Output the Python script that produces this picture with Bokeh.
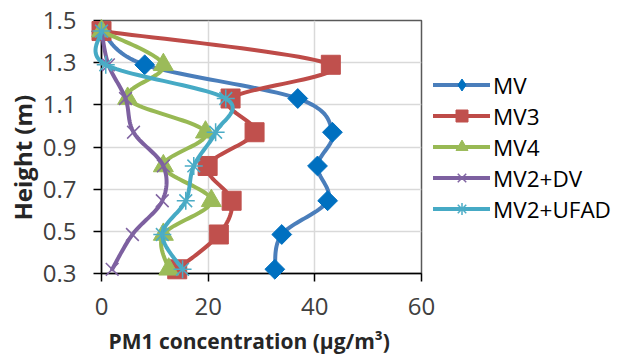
import numpy as np
from bokeh.plotting import figure
from bokeh.models import FixedTicker, Legend, LegendItem, CustomJSTickFormatter, Title
from bokeh.embed import file_html
from bokeh.resources import INLINE

heights = [0.32, 0.485, 0.645, 0.81, 0.97, 1.13, 1.29, 1.45]
mv = [32.5, 33.8, 42.4, 40.5, 43.3, 36.8, 8.1, 0.0]
mv3 = [14.2, 22.0, 24.4, 19.9, 28.7, 24.2, 43.0, 0.0]
mv4 = [12.6, 11.6, 20.6, 11.6, 19.5, 4.9, 11.6, 0.0]
mv2_dv = [2.0, 5.8, 11.4, 11.6, 6.0, 4.5, 1.3, 0.0]
mv2_ufad = [15.2, 11.4, 15.8, 17.3, 21.4, 23.3, 0.8, 0.0]

series_names = ["MV", "MV3", "MV4", "MV2+DV", "MV2+UFAD"]
y_ticks = [0.3, 0.5, 0.7, 0.9, 1.1, 1.3, 1.5]
x_ticks = [0, 20, 40, 60]
x_title = "PM1 concentration (µg/m³)"
y_title = "Height (m)"


def smooth(xs, ys, n=24):
    pts = np.column_stack([xs, ys]).astype(float)
    m = len(pts)
    out = [pts[0]]
    for i in range(m - 1):
        p0 = pts[max(i - 1, 0)]
        p1 = pts[i]
        p2 = pts[i + 1]
        p3 = pts[min(i + 2, m - 1)]
        c1 = p1 + (p2 - p0) / 6.0
        c2 = p2 - (p3 - p1) / 6.0
        t = np.linspace(0, 1, n)[1:, None]
        b = ((1 - t) ** 3) * p1 + 3 * ((1 - t) ** 2) * t * c1 + 3 * (1 - t) * t ** 2 * c2 + t ** 3 * p2
        out.extend(b)
    out = np.array(out)
    return out[:, 0], out[:, 1]


p = figure(frame_width=320, frame_height=253, output_backend="svg", toolbar_location=None,
           x_range=(0, 60), y_range=(0.3, 1.5),
           min_border_left=101, min_border_right=0, min_border_top=20, min_border_bottom=87)

p.outline_line_color = "#595959"
p.outline_line_width = 1.5
p.background_fill_color = "white"
p.border_fill_color = "white"

p.xgrid.grid_line_color = "#d9d9d9"
p.ygrid.grid_line_color = "#d9d9d9"
p.xgrid.grid_line_width = 1.5
p.ygrid.grid_line_width = 1.5

p.xaxis.ticker = FixedTicker(ticks=x_ticks)
p.yaxis.ticker = FixedTicker(ticks=y_ticks)
p.yaxis.formatter = CustomJSTickFormatter(code="return tick.toFixed(1);")
for ax in (p.xaxis[0], p.yaxis[0]):
    ax.axis_line_color = "black"
    ax.axis_line_width = 1.5
    ax.major_tick_line_color = "black"
    ax.major_tick_line_width = 1.5
    ax.major_tick_out = 8
    ax.major_tick_in = 0
    ax.minor_tick_line_color = None
    ax.major_label_text_font = "Open Sans"
    ax.major_label_text_font_size = "24px"
    ax.major_label_text_color = "#404040"
p.xaxis.major_label_standoff = 16
p.yaxis.major_label_standoff = 17

p.add_layout(Title(text=x_title, align="left", offset=7, standoff=14,
                   text_font="Open Sans", text_font_style="bold", text_font_size="21px",
                   text_color="#262626"), "below")
p.add_layout(Title(text=y_title, align="left", offset=53, standoff=2,
                   text_font="Open Sans", text_font_style="bold", text_font_size="24px",
                   text_color="#262626"), "left")

data = [mv, mv3, mv4, mv2_dv, mv2_ufad]
line_colors = ["#4a7ebb", "#be4b48", "#98b954", "#7d60a0", "#46aac5"]
marker_fill = ["#0070c0", "#c0504d", "#9bbb59", "#8064a2", "#4bacc6"]
markers = ["square", "square", "triangle", "x", "asterisk"]
legend_markers = ["diamond", "square", "triangle", "x", "asterisk"]
sizes = [14, 19, 20, 18, 18]
angles = [np.pi / 4, 0, 0, 0, 0]

items = []
for vals, name, lc, mf, mk, lmk, sz, ang in zip(data, series_names, line_colors, marker_fill,
                                                markers, legend_markers, sizes, angles):
    sx, sy = smooth(vals, heights)
    r1 = p.line(sx, sy, line_color=lc, line_width=4, line_join="round", line_cap="round", level="overlay")
    if mk in ("x", "asterisk"):
        r2 = p.scatter(vals, heights, marker=mk, size=sz, line_color=mf, line_width=1.5, level="overlay")
    else:
        r2 = p.scatter(vals, heights, marker=mk, size=sz, angle=ang, fill_color=mf, line_color=mf,
                       level="overlay")
    rend = [r1, r2]
    if lmk != mk:
        r3 = p.scatter([np.nan], [np.nan], marker=lmk, fill_color=mf, line_color=mf)
        rend = [r1, r3]
    items.append(LegendItem(label=name, renderers=rend))

legend = Legend(items=items, location="left", orientation="vertical",
                glyph_width=57, glyph_height=30, label_height=30, spacing=0, padding=0, margin=12,
                label_standoff=3, border_line_color=None, background_fill_alpha=0,
                label_text_font="Open Sans", label_text_font_size="22.5px", label_text_color="#000000")
p.add_layout(legend, "right")

open("out.html", "w").write(file_html(p, INLINE))
